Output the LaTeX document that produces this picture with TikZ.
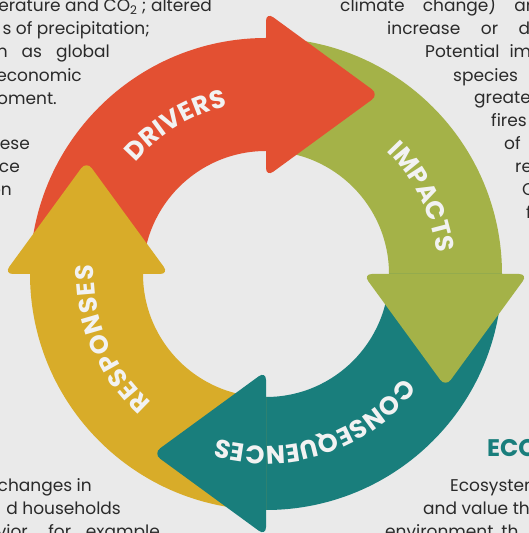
\documentclass[tikz,border=0pt]{standalone}
\usepackage{fontspec}
\setmainfont{Poppins}
\newfontfamily\lblfont{Poppins}
\usetikzlibrary{calc,decorations.text}
\definecolor{bg}{HTML}{EAEAEA}
\definecolor{cred}{HTML}{E35032}
\definecolor{cgreen}{HTML}{A4B248}
\definecolor{cteal}{HTML}{197E7C}
\definecolor{cyellow}{HTML}{D8AC29}
\definecolor{ink}{HTML}{2A2A2A}
\definecolor{lbl}{HTML}{F2F2F2}
\newcommand\Ro{236}
\newcommand\Ri{123}
\newcommand\ringbody[3]{\fill[#3] ($(c)+(#1:\Ro)$) arc[start angle=#1,end angle=#2,radius=\Ro] -- ($(c)+(#2:\Ri)$) arc[start angle=#2,end angle=#1,radius=\Ri] -- cycle;}
\newcommand\ringhead[2]{\fill[#2,headshape] ($(c)+(#1:97)$) -- ($(c)+(#1:179.5)+(#1-90:113)$) -- ($(c)+(#1:262)$) -- cycle;}
\newcommand\ringlabel[3]{\path[decorate,decoration={text along path,text align=fit to path,text color=lbl,text={|\lblfont\bfseries\fontsize{25.5}{25.5}\selectfont|#3}}] ($(c)+(#1:172)$) arc[start angle=#1,end angle=#2,radius=172];}
\begin{document}
\begin{tikzpicture}[x=1pt,y=1pt,
  headshape/.style={rounded corners=9pt},
  txt/.style={text=ink,font=\fontsize{17}{17}\selectfont,inner sep=0pt},
  txtl/.style={txt,anchor=base west},
  txtr/.style={txt,anchor=base east}]
\useasboundingbox (0,0) rectangle (529,533);
\fill[bg] (0,0) rectangle (529,533);
\coordinate (c) at (266,259);
% ring bodies
\ringbody{180}{90}{cred}
\ringbody{90}{0}{cgreen}
\ringbody{0}{-90}{cteal}
\ringbody{270}{180}{cyellow}
% arrow heads
\ringhead{90}{cred}
\ringhead{0}{cgreen}
\ringhead{-90}{cteal}
\ringhead{180}{cyellow}
% curved labels
\ringlabel{139.5}{103}{DRIVERS}
\ringlabel{45.5}{8.5}{IMPACTS}
\ringlabel{-37}{-106.5}{CONSEQUENCES}
\ringlabel{228.5}{177}{RESPONSES}
% left text block
\node[txtr] (l1) at (212,521) {erature and CO\textsubscript{2} ; altered};
\node[txtr] (l2) at (150,498) {s of precipitation;};
\node[txtr] (l3) at (110,475) {\makebox[113pt][s]{n as global}};
\node[txtr] (l4) at (82,451) {economic};
\node[txtr] (l5) at (57,428) {oment.};
\node[txtr] (l6) at (30,383) {ese};
\node[txtr] (l7) at (20,360) {ce};
\node[txtr] (l8) at (12,337) {on};
\node[txtr] (l9) at (92,41) {changes in};
\node[txtr] (l10) at (121,18) {d households};
\node[txtr] (l11) at (160,-5) {\makebox[163pt][s]{vior, for example}};
% right text block
\node[txtl] (r1) at (340,521) {\makebox[192pt][s]{climate change) ar}};
\node[txtl] (r2) at (387,498) {\makebox[143pt][s]{increase or d}};
\node[txtl] (r3) at (425,475) {\makebox[106pt][s]{Potential im}};
\node[txtl] (r4) at (453,451) {species};
\node[txtl] (r5) at (474,429) {greate};
\node[txtl] (r6) at (491,406) {fires};
\node[txtl] (r7) at (504,383) {of};
\node[txtl] (r8) at (515,360) {re};
\node[txtl] (r9) at (522,337) {C};
\node[txtl] (r10) at (526,314) {f};
% bottom right
\node[txtl,text=cteal,font=\bfseries\fontsize{24}{24}\selectfont] (h1) at (487,76) {ECO};
\node[txtl] (r11) at (450,41) {Ecosystem};
\node[txtl] (r12) at (423,18) {and value th};
\node[txtl] (r13) at (385,-5) {environment, th};
\end{tikzpicture}
\end{document}
